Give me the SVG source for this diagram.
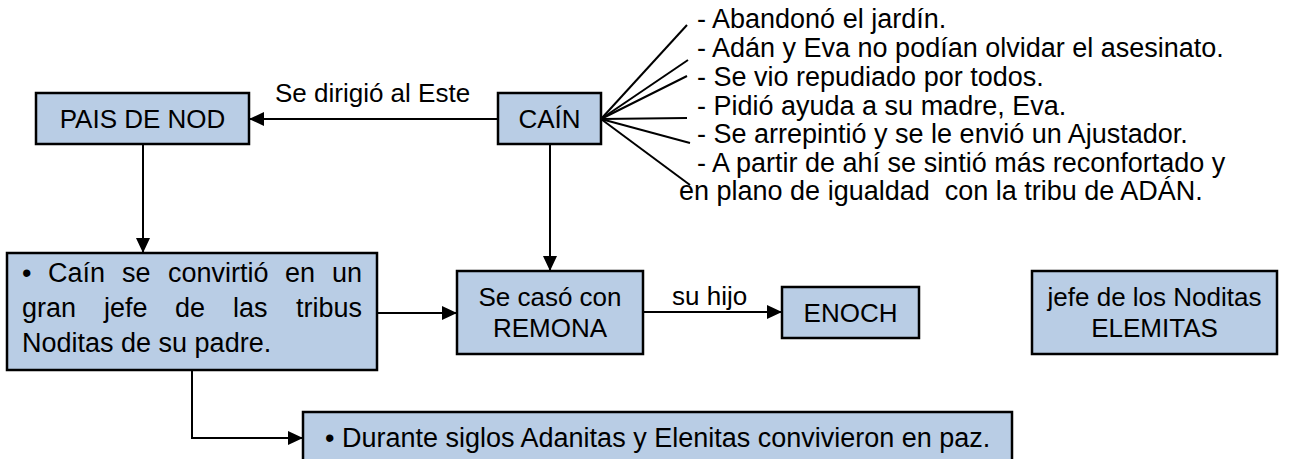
<svg xmlns="http://www.w3.org/2000/svg" width="1297" height="459" viewBox="0 0 1297 459">
<style>
.box{fill:#b9cde5;stroke:#000;stroke-width:2.5}
text{font-family:"Liberation Sans",Arial,sans-serif;font-size:26px;fill:#000}
.big{font-size:27px}
.c{text-anchor:middle}
.ln{stroke:#000;stroke-width:2;fill:none}
</style>
<defs>
<marker id="ah" viewBox="0 0 15 14" markerWidth="15" markerHeight="14" refX="14" refY="7" orient="auto" markerUnits="userSpaceOnUse"><path d="M0,0 L15,7 L0,14 z" fill="#000"/></marker>
</defs>
<rect width="1297" height="459" fill="#fff"/>
<g id="connectors">
<line class="ln" x1="498" y1="119" x2="250" y2="119" marker-end="url(#ah)"/>
<line class="ln" x1="143" y1="144" x2="143" y2="252" marker-end="url(#ah)"/>
<line class="ln" x1="550" y1="144" x2="550" y2="270" marker-end="url(#ah)"/>
<line class="ln" x1="377" y1="313" x2="456" y2="313" marker-end="url(#ah)"/>
<line class="ln" x1="643" y1="312" x2="781" y2="312" marker-end="url(#ah)"/>
<polyline class="ln" points="192,370 192,438 302,438" marker-end="url(#ah)"/>
<g class="ln">
<line x1="601" y1="119" x2="687" y2="25"/>
<line x1="601" y1="119" x2="688" y2="60"/>
<line x1="601" y1="119" x2="687" y2="76"/>
<line x1="601" y1="119" x2="687" y2="118"/>
<line x1="601" y1="119" x2="690" y2="143"/>
<line x1="601" y1="119" x2="690" y2="185"/>
</g>
<text x="275" y="102">Se dirigió al Este</text>
<text x="672" y="305">su hijo</text>
</g>
<g id="pais">
<rect class="box" x="36" y="93" width="213" height="51"/>
<text class="c" x="142.5" y="128">PAIS DE NOD</text>
</g>
<g id="cain">
<rect class="box" x="498" y="93" width="103" height="51"/>
<text class="c" x="549.5" y="128">CAÍN</text>
</g>
<g id="list" class="big">
<text class="big" x="697" y="28">- Abandonó el jardín.</text>
<text class="big" x="697" y="57">- Adán y Eva no podían olvidar el asesinato.</text>
<text class="big" x="697" y="86">- Se vio repudiado por todos.</text>
<text class="big" x="697" y="115">- Pidió ayuda a su madre, Eva.</text>
<text class="big" x="697" y="143">- Se arrepintió y se le envió un Ajustador.</text>
<text class="big" x="697" y="172">- A partir de ahí se sintió más reconfortado y</text>
<text class="big" x="679" y="200" xml:space="preserve">en plano de igualdad  con la tribu de ADÁN.</text>
</g>
<g id="jefe-tribus">
<rect class="box" x="7" y="253" width="370" height="117"/>
<text class="big" y="282"><tspan x="22">•</tspan><tspan x="48">Caín</tspan><tspan x="122">se</tspan><tspan x="168">convirtió</tspan><tspan x="285">en</tspan><tspan x="332">un</tspan></text>
<text class="big" y="317"><tspan x="22">gran</tspan><tspan x="104">jefe</tspan><tspan x="175">de</tspan><tspan x="233">las</tspan><tspan x="296">tribus</tspan></text>
<text class="big" x="22" y="352">Noditas de su padre.</text>
</g>
<g id="remona">
<rect class="box" x="457" y="271" width="186" height="83"/>
<text class="c" x="550" y="306">Se casó con</text>
<text class="c" x="550" y="337">REMONA</text>
</g>
<g id="enoch">
<rect class="box" x="782" y="287" width="137" height="51"/>
<text class="c" x="850.5" y="322">ENOCH</text>
</g>
<g id="elemitas">
<rect class="box" x="1032" y="271" width="245" height="83"/>
<text class="c" x="1154.5" y="306">jefe de los Noditas</text>
<text class="c" x="1154.5" y="337">ELEMITAS</text>
</g>
<g id="durante">
<rect class="box" x="303" y="412" width="709" height="60"/>
<text class="big" x="325" y="447">• Durante siglos Adanitas y Elenitas convivieron en paz.</text>
</g>
</svg>
